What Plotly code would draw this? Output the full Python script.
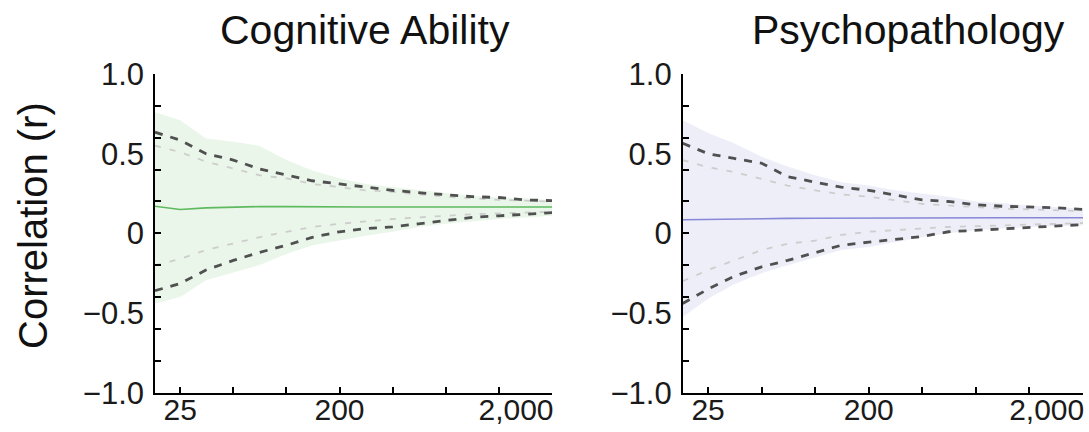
import math
import plotly.graph_objects as go

# ---------------- data ----------------
sample_sizes = [18, 25, 35, 50, 70, 100, 140, 200, 280, 400, 560, 800, 1130, 1600, 2260, 3200]
x_tick_marks = [25, 50, 100, 200, 400, 800, 1600, 3200]
x_tick_vals = [25, 200, 2000]
x_tick_text = ["25", "200", "2,000"]
y_tick_marks = [-1.0, -0.8, -0.6, -0.4, -0.2, 0.0, 0.2, 0.4, 0.6, 0.8, 1.0]
y_tick_vals = [-1.0, -0.5, 0.0, 0.5, 1.0]
y_tick_text = ["\u22121.0", "\u22120.5", "0", "0.5", "1.0"]

# Cognitive ability
cog_mean = [0.17, 0.15, 0.16, 0.165, 0.168, 0.168, 0.166, 0.165, 0.165, 0.165, 0.165, 0.165, 0.165, 0.165, 0.165, 0.165]
cog_band_hi = [0.76, 0.71, 0.595, 0.575, 0.55, 0.46, 0.395, 0.345, 0.31, 0.29, 0.27, 0.25, 0.235, 0.225, 0.22, 0.21]
cog_band_lo = [-0.44, -0.40, -0.295, -0.245, -0.20, -0.13, -0.075, -0.045, -0.015, 0.01, 0.04, 0.06, 0.075, 0.09, 0.10, 0.11]
cog_dark_hi = [0.635, 0.585, 0.50, 0.46, 0.405, 0.365, 0.33, 0.31, 0.29, 0.27, 0.255, 0.24, 0.23, 0.225, 0.21, 0.205]
cog_dark_lo = [-0.36, -0.315, -0.23, -0.17, -0.12, -0.075, -0.025, 0.01, 0.03, 0.04, 0.06, 0.08, 0.10, 0.11, 0.12, 0.13]
cog_light_hi = [0.55, 0.51, 0.45, 0.405, 0.365, 0.345, 0.31, 0.29, 0.27, 0.26, 0.245, 0.23, 0.22, 0.21, 0.205, 0.20]
cog_light_lo = [-0.20, -0.16, -0.105, -0.065, -0.025, 0.01, 0.04, 0.06, 0.075, 0.09, 0.10, 0.11, 0.12, 0.125, 0.13, 0.135]

# Psychopathology
psy_mean = [0.085, 0.088, 0.09, 0.092, 0.094, 0.095, 0.096, 0.097, 0.098, 0.098, 0.098, 0.098, 0.098, 0.098, 0.098, 0.098]
psy_band_hi = [0.71, 0.63, 0.565, 0.48, 0.42, 0.365, 0.32, 0.30, 0.27, 0.25, 0.23, 0.20, 0.19, 0.175, 0.165, 0.155]
psy_band_lo = [-0.525, -0.41, -0.32, -0.25, -0.20, -0.15, -0.105, -0.085, -0.055, -0.025, 0.0, 0.02, 0.03, 0.04, 0.045, 0.05]
psy_dark_hi = [0.565, 0.50, 0.47, 0.44, 0.355, 0.32, 0.29, 0.27, 0.24, 0.21, 0.20, 0.18, 0.17, 0.165, 0.16, 0.15]
psy_dark_lo = [-0.44, -0.35, -0.27, -0.21, -0.17, -0.12, -0.075, -0.055, -0.04, -0.02, 0.01, 0.02, 0.03, 0.04, 0.045, 0.055]
psy_light_hi = [0.46, 0.415, 0.385, 0.34, 0.30, 0.27, 0.245, 0.23, 0.21, 0.185, 0.175, 0.165, 0.155, 0.15, 0.145, 0.14]
psy_light_lo = [-0.30, -0.23, -0.17, -0.105, -0.065, -0.045, -0.01, 0.01, 0.02, 0.03, 0.04, 0.045, 0.05, 0.055, 0.06, 0.065]

titles = ["Cognitive Ability", "Psychopathology"]
y_title = "Correlation (r)"

# ---------------- styling ----------------
W, H = 1089, 432
FONT = "Liberation Sans, Arial, Helvetica, sans-serif"
panels = [
    dict(x="x", y="y", xl="x3", yl="y3", x0=155, x1=552,
         fill="rgba(120,200,120,0.16)", line="rgb(95,185,95)", title_x=365,
         data=(cog_mean, cog_band_hi, cog_band_lo, cog_dark_hi, cog_dark_lo, cog_light_hi, cog_light_lo)),
    dict(x="x2", y="y2", xl="x4", yl="y4", x0=682.7, x1=1083,
         fill="rgba(150,150,215,0.16)", line="rgb(135,135,215)", title_x=908,
         data=(psy_mean, psy_band_hi, psy_band_lo, psy_dark_hi, psy_dark_lo, psy_light_hi, psy_light_lo)),
]
y_top, y_bot = 74, 392.7
ydom = [1 - y_bot / H, 1 - y_top / H]
xrange_log = [math.log10(sample_sizes[0]), math.log10(sample_sizes[-1])]

fig = go.Figure()
layout = dict(
    width=W, height=H, margin=dict(l=0, r=0, t=0, b=0, autoexpand=False),
    paper_bgcolor="white", plot_bgcolor="white", showlegend=False,
    font=dict(family=FONT, color="#1a1a1a"),
    annotations=[],
)

def axname(a):
    return "xaxis" + a[1:] if a.startswith("x") else "yaxis" + a[1:]

for p in panels:
    mean, bhi, blo, dhi, dlo, lhi, llo = p["data"]
    ax = dict(xaxis=p["x"], yaxis=p["y"])
    fig.add_trace(go.Scatter(x=sample_sizes, y=blo, mode="lines", line=dict(width=0),
                             hoverinfo="skip", **ax))
    fig.add_trace(go.Scatter(x=sample_sizes, y=bhi, mode="lines", line=dict(width=0),
                             fill="tonexty", fillcolor=p["fill"], hoverinfo="skip", **ax))
    for ys in (lhi, llo):
        fig.add_trace(go.Scatter(x=sample_sizes, y=ys, mode="lines",
                                 line=dict(color="rgb(205,205,205)", width=1.8, dash="6px,9px"), **ax))
    for ys in (dhi, dlo):
        fig.add_trace(go.Scatter(x=sample_sizes, y=ys, mode="lines",
                                 line=dict(color="rgb(80,80,80)", width=2.8, dash="8px,8px"), **ax))
    fig.add_trace(go.Scatter(x=sample_sizes, y=mean, mode="lines",
                             line=dict(color=p["line"], width=1.6), **ax))
    # dummy traces so the label-only overlay axes are drawn
    fig.add_trace(go.Scatter(x=[None], y=[None], xaxis=p["x"], yaxis=p["yl"], hoverinfo="skip"))
    fig.add_trace(go.Scatter(x=[None], y=[None], xaxis=p["xl"], yaxis=p["y"], hoverinfo="skip"))

    xdom = [p["x0"] / W, p["x1"] / W]
    layout[axname(p["x"])] = dict(
        type="log", range=xrange_log, domain=xdom, anchor=p["y"], automargin=False,
        showline=True, linecolor="black", linewidth=2.2, mirror=False,
        ticks="inside", ticklen=6, tickwidth=2, tickcolor="black",
        tickvals=x_tick_marks, showticklabels=False, showgrid=False, zeroline=False,
    )
    layout[axname(p["y"])] = dict(
        range=[-1, 1], domain=ydom, anchor=p["x"], automargin=False,
        showline=True, linecolor="black", linewidth=2.2,
        ticks="inside", ticklen=6, tickwidth=2, tickcolor="black",
        tickvals=y_tick_marks, showticklabels=False, showgrid=False, zeroline=False,
    )
    layout[axname(p["xl"])] = dict(
        type="log", range=xrange_log, overlaying=p["x"], anchor=p["y"], side="bottom",
        automargin=False,
        showline=False, ticks="", tickvals=x_tick_vals, ticktext=x_tick_text,
        tickfont=dict(size=30, family=FONT, color="#1a1a1a"),
        showgrid=False, zeroline=False, ticklabelstandoff=-4,
    )
    layout[axname(p["yl"])] = dict(
        range=[-1, 1], overlaying=p["y"], anchor=p["x"], side="left", automargin=False,
        showline=False, ticks="", tickvals=y_tick_vals, ticktext=y_tick_text,
        tickfont=dict(size=31, family=FONT, color="#1a1a1a"),
        showgrid=False, zeroline=False, ticklabelstandoff=10,
    )
    layout["annotations"].append(dict(
        text=titles[panels.index(p)], x=p["title_x"] / W, y=1 - 30 / H,
        xref="paper", yref="paper", xanchor="center", yanchor="middle",
        showarrow=False, font=dict(size=41, family=FONT, color="#111"),
    ))

layout["annotations"].append(dict(
    text=y_title, x=33 / W, y=1 - 226 / H, xref="paper", yref="paper",
    xanchor="center", yanchor="middle", textangle=-90, showarrow=False,
    font=dict(size=40, family=FONT, color="#111"),
))

fig.update_layout(**layout)
fig.write_html("out.html")
